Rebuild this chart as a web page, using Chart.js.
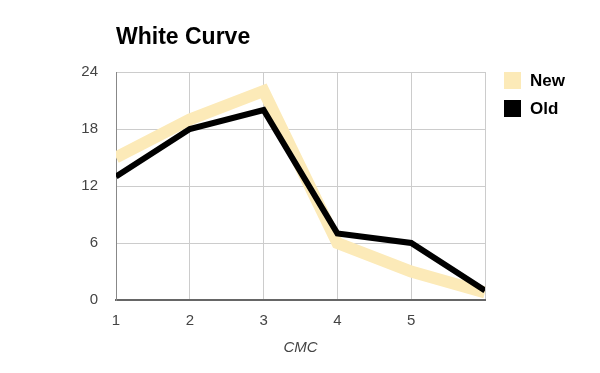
<!DOCTYPE html>
<html>
<head>
<meta charset="utf-8">
<script src="https://cdn.jsdelivr.net/npm/chart.js@4.4.1/dist/chart.umd.min.js"></script>
<style>
html,body{margin:0;padding:0;background:#fff;}
#wrap{width:600px;height:373px;}
</style>
</head>
<body>
<div id="wrap"><canvas id="c" width="600" height="373"></canvas></div>
<script>
const chartTitle = "White Curve";
const xAxisTitle = "CMC";
const categories = [1, 2, 3, 4, 5, 6];
const xTickLabels = ["1", "2", "3", "4", "5", ""];
const yTicks = [0, 6, 12, 18, 24];
const newValues = [15, 19, 22, 6, 3, 0.8];
const oldValues = [13, 18, 20, 7, 6, 1];
const seriesNames = ["New", "Old"];
const seriesColors = ["#FCEAB8", "#000000"];

const FONT = "'Liberation Sans', Arial, sans-serif";

const toPoints = vals => categories.map((c, i) => ({x: c, y: vals[i]}));

const overlay = {
  id: 'overlay',
  afterDraw(chart) {
    const ctx = chart.ctx;
    ctx.save();
    ctx.fillStyle = '#000';
    ctx.font = "bold 23px " + FONT;
    ctx.textAlign = 'left';
    ctx.textBaseline = 'alphabetic';
    ctx.fillText(chartTitle, 116, 44);
    const lx = 504, ly = 72, box = 17, gap = 28;
    chart.data.datasets.forEach((ds, i) => {
      const y = ly + i * gap;
      ctx.fillStyle = ds.borderColor;
      ctx.fillRect(lx, y, box, box);
      ctx.fillStyle = '#000';
      ctx.font = "bold 17px " + FONT;
      ctx.textBaseline = 'middle';
      ctx.fillText(ds.label, lx + 26, y + box / 2 + 1);
    });
    ctx.restore();
  }
};

new Chart(document.getElementById('c'), {
  type: 'line',
  data: {
    datasets: [
      {label: seriesNames[0], data: toPoints(newValues), borderColor: seriesColors[0], backgroundColor: seriesColors[0],
       borderWidth: 12, pointRadius: 0, tension: 0, order: 1, borderJoinStyle: 'miter', clip: 0},
      {label: seriesNames[1], data: toPoints(oldValues), borderColor: seriesColors[1], backgroundColor: seriesColors[1],
       borderWidth: 6, pointRadius: 0, tension: 0, order: 0, borderJoinStyle: 'miter', clip: 0}
    ]
  },
  options: {
    responsive: false,
    animation: false,
    devicePixelRatio: 1,
    layout: {padding: {left: 0, right: 115, top: 72, bottom: 0}},
    plugins: {legend: {display: false}, title: {display: false}, tooltip: {enabled: false}},
    scales: {
      x: {
        type: 'linear', min: 1, max: 6,
        afterFit: s => { s.height = 73; },
        afterBuildTicks: s => { s.ticks = categories.map(v => ({value: v})); },
        ticks: {stepSize: 1, padding: 12, color: '#444', font: {family: FONT, size: 15}, maxRotation: 0,
                callback: (v, i) => xTickLabels[i]},
        grid: {color: '#cccccc', lineWidth: 1, drawTicks: false},
        border: {color: '#666666', width: 2},
        title: {display: true, text: xAxisTitle, color: '#444', font: {family: FONT, size: 15, style: 'italic'}, padding: {top: 0, bottom: 16}}
      },
      y: {
        min: 0, max: 24,
        afterFit: s => { s.width = 116; },
        afterBuildTicks: s => { s.ticks = yTicks.map(v => ({value: v})); },
        ticks: {padding: 18, color: '#444', font: {family: FONT, size: 15}},
        grid: {color: '#cccccc', lineWidth: 1, drawTicks: false},
        border: {color: '#888888', width: 1}
      }
    }
  },
  plugins: [overlay]
});
</script>
</body>
</html>
